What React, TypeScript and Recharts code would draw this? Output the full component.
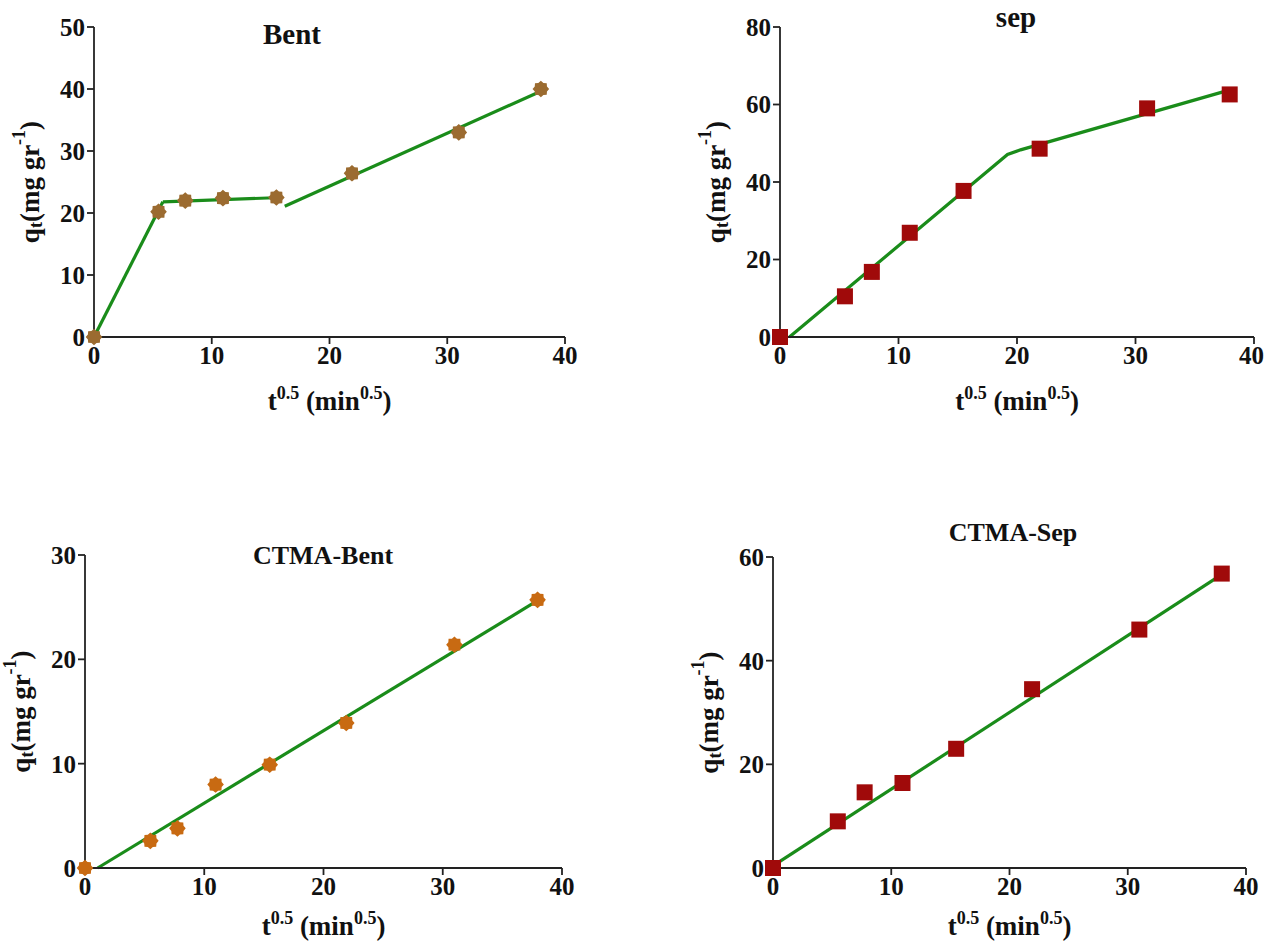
import React from "react";
import { ComposedChart, Line, Scatter, XAxis, YAxis } from "recharts";

// sqrt of contact time (30, 60, 120, 240, 480, 960, 1440 min)
const tSqrt = [0, 5.48, 7.75, 10.95, 15.49, 21.91, 30.98, 37.95];

const bentQ = [0, 20.2, 22.0, 22.4, 22.5, 26.4, 33.0, 40.0];
const sepQ = [0, 10.5, 16.8, 26.9, 37.7, 48.6, 59.0, 62.6];
const ctmaBentQ = [0, 2.6, 3.8, 8.0, 9.9, 13.9, 21.4, 25.7];
const ctmaSepQ = [0, 9.0, 14.6, 16.4, 23.0, 34.5, 46.0, 56.8];

// fitted multi-linear segments (x, y pairs)
const bentFit1 = [
  { x: 0, y: 0 },
  { x: 5.85, y: 21.8 },
];
const bentFit2 = [
  { x: 5.85, y: 21.8 },
  { x: 15.9, y: 22.5 },
];
const bentFit3 = [
  { x: 16.2, y: 21.1 },
  { x: 37.9, y: 39.6 },
];
const sepFit = [
  { x: 0.8, y: 0 },
  { x: 19.2, y: 47.1 },
  { x: 20.3, y: 48.3 },
  { x: 37.9, y: 63.7 },
];
const ctmaBentFit = [
  { x: 1.06, y: 0 },
  { x: 37.9, y: 25.6 },
];
const ctmaSepFit = [
  { x: 0, y: 0.4 },
  { x: 37.8, y: 56.4 },
];

const xTicks = [0, 10, 20, 30, 40];

const FONT = '"Liberation Serif", "Times New Roman", serif';
const GREEN = "#1a8c1a";
const AXIS = "#222";
const Y_AXIS_W = 60;
const X_AXIS_H = 40;

const toPoints = (ys: number[]) => ys.map((y, i) => ({ x: tSqrt[i], y }));

function starPath(cx: number, cy: number) {
  const pts: string[] = [];
  for (let i = 0; i < 16; i++) {
    const r = i % 2 === 0 ? 8.3 : 6.6;
    const a = (Math.PI * 2 * i) / 16 - Math.PI / 2;
    pts.push(`${cx + r * Math.cos(a)},${cy + r * Math.sin(a)}`);
  }
  return pts.join(" ");
}

const starShape = (color: string) => (props: any) => {
  const { cx, cy } = props;
  if (cx == null || cy == null) return <g />;
  return <polygon points={starPath(cx, cy)} fill={color} />;
};

const squareShape = (color: string) => (props: any) => {
  const { cx, cy } = props;
  if (cx == null || cy == null) return <g />;
  return <rect x={cx - 8} y={cy - 8} width={16} height={16} fill={color} />;
};

type Rect = { l: number; r: number; t: number; b: number };

function Panel({
  left,
  top,
  width,
  height,
  plot,
  yMax,
  yTicks,
  title,
  titleX,
  titleY,
  titleSize,
  xLabelGap,
  points,
  fits,
  shape,
}: {
  left: number;
  top: number;
  width: number;
  height: number;
  plot: Rect;
  yMax: number;
  yTicks: number[];
  title: string;
  titleX: number;
  titleY: number;
  titleSize: number;
  xLabelGap: number;
  points: { x: number; y: number }[];
  fits: { x: number; y: number }[][];
  shape: (p: any) => React.ReactElement;
}) {
  const margin = {
    top: plot.t - top,
    left: plot.l - left - Y_AXIS_W,
    right: left + width - plot.r,
    bottom: top + height - plot.b - X_AXIS_H,
  };
  const tickStyle = { fill: "#111", fontSize: 25, fontWeight: 700, fontFamily: FONT };
  const cx = (plot.l + plot.r) / 2 - left;
  const cy = (plot.t + plot.b) / 2 - top;
  const yLabX = plot.l - left - 64;
  return (
    <div style={{ position: "absolute", left, top, width, height }}>
      <ComposedChart width={width} height={height} margin={margin}>
        <XAxis
          type="number"
          dataKey="x"
          domain={[0, 40]}
          ticks={xTicks}
          height={X_AXIS_H}
          tick={tickStyle}
          tickSize={7}
          tickMargin={2}
          axisLine={{ stroke: AXIS, strokeWidth: 1.8 }}
          tickLine={{ stroke: AXIS, strokeWidth: 1.8 }}
        />
        <YAxis
          type="number"
          dataKey="y"
          domain={[0, yMax]}
          ticks={yTicks}
          width={Y_AXIS_W}
          tick={tickStyle}
          tickSize={7}
          tickMargin={2}
          axisLine={{ stroke: AXIS, strokeWidth: 1.8 }}
          tickLine={{ stroke: AXIS, strokeWidth: 1.8 }}
        />
        <Scatter data={points} dataKey="y" shape={shape} isAnimationActive={false} />
        {fits.map((f, i) => (
          <Line
            key={i}
            data={f}
            dataKey="y"
            type="linear"
            stroke={GREEN}
            strokeWidth={3.2}
            dot={false}
            activeDot={false}
            isAnimationActive={false}
          />
        ))}
        <text
          x={titleX - left}
          y={titleY - top}
          textAnchor="middle"
          fontFamily={FONT}
          fontWeight={700}
          fontSize={titleSize}
          fill="#111"
        >
          {title}
        </text>
        <text
          x={cx}
          y={plot.b - top + xLabelGap}
          textAnchor="middle"
          fontFamily={FONT}
          fontWeight={700}
          fontSize={27}
          fill="#111"
        >
          t<tspan dy={-11} fontSize={18}>0.5</tspan>
          <tspan dy={11}> (min</tspan>
          <tspan dy={-11} fontSize={18}>0.5</tspan>
          <tspan dy={11}>)</tspan>
        </text>
        <text
          x={yLabX}
          y={cy}
          transform={`rotate(-90 ${yLabX} ${cy})`}
          textAnchor="middle"
          dominantBaseline="central"
          fontFamily={FONT}
          fontWeight={700}
          fontSize={27}
          fill="#111"
        >
          q<tspan dy={6} fontSize={18}>t</tspan>
          <tspan dy={-6}>(mg gr</tspan>
          <tspan dy={-11} fontSize={18}>-1</tspan>
          <tspan dy={11}>)</tspan>
        </text>
      </ComposedChart>
    </div>
  );
}

export default function App() {
  return (
    <div
      style={{
        position: "absolute",
        left: 0,
        top: 0,
        width: 1264,
        height: 945,
        background: "#fff",
        overflow: "hidden",
      }}
    >
      <Panel
        left={0}
        top={0}
        width={630}
        height={470}
        plot={{ l: 94, r: 565, t: 27, b: 337 }}
        yMax={50}
        yTicks={[0, 10, 20, 30, 40, 50]}
        title="Bent"
        titleX={292}
        titleY={44}
        titleSize={29}
        xLabelGap={73}
        points={toPoints(bentQ)}
        fits={[bentFit1, bentFit2, bentFit3]}
        shape={starShape("#9b6b30")}
      />
      <Panel
        left={640}
        top={0}
        width={624}
        height={470}
        plot={{ l: 780, r: 1254, t: 27, b: 337 }}
        yMax={80}
        yTicks={[0, 20, 40, 60, 80]}
        title="sep"
        titleX={1016}
        titleY={27}
        titleSize={29}
        xLabelGap={73}
        points={toPoints(sepQ)}
        fits={[sepFit]}
        shape={squareShape("#a00a0a")}
      />
      <Panel
        left={0}
        top={475}
        width={630}
        height={470}
        plot={{ l: 85, r: 562, t: 555, b: 868 }}
        yMax={30}
        yTicks={[0, 10, 20, 30]}
        title="CTMA-Bent"
        titleX={323}
        titleY={564}
        titleSize={26}
        xLabelGap={67}
        points={toPoints(ctmaBentQ)}
        fits={[ctmaBentFit]}
        shape={starShape("#c86a12")}
      />
      <Panel
        left={640}
        top={475}
        width={624}
        height={470}
        plot={{ l: 773, r: 1246, t: 557, b: 868 }}
        yMax={60}
        yTicks={[0, 20, 40, 60]}
        title="CTMA-Sep"
        titleX={1013}
        titleY={541}
        titleSize={26}
        xLabelGap={67}
        points={toPoints(ctmaSepQ)}
        fits={[ctmaSepFit]}
        shape={squareShape("#a00a0a")}
      />
    </div>
  );
}
